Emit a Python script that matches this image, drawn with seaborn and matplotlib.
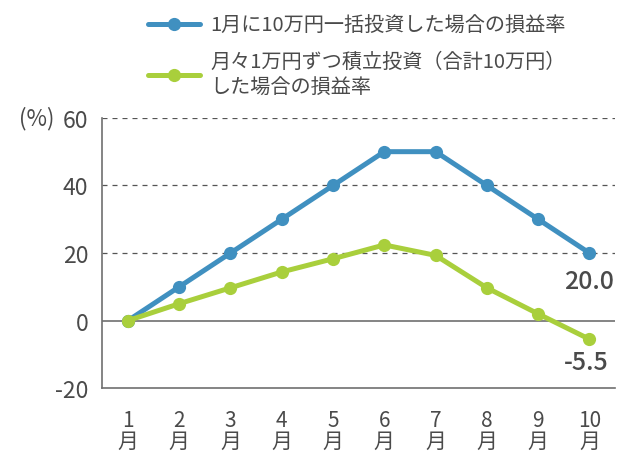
import matplotlib.pyplot as plt
from matplotlib.ticker import FixedLocator
import seaborn as sns

sns.set_style("white")
plt.rcParams["font.family"] = ["Noto Sans CJK JP", "DejaVu Sans"]

# data
months = [1, 2, 3, 4, 5, 6, 7, 8, 9, 10]
month_labels = [f"{m}\n月" for m in months]
lump_sum = [0, 10, 20, 30, 40, 50, 50, 40, 30, 20]
monthly = [0, 5.0, 9.7, 14.4, 18.3, 22.4, 19.3, 9.7, 2.0, -5.5]
series_names = [
    "1月に10万円一括投資した場合の損益率",
    "月々1万円ずつ積立投資（合計10万円）\nした場合の損益率",
]
y_ticks = [-20, 0, 20, 40, 60]

blue = "#4090c0"
green = "#a9cf3c"
text_color = "#4a4a4a"
axis_color = "#707070"

fig = plt.figure(figsize=(6.2, 4.52), dpi=100)
ax = fig.add_axes([0.165, 0.139, 0.827, 0.598])

for values, color, name in [(lump_sum, blue, series_names[0]), (monthly, green, series_names[1])]:
    sns.lineplot(x=months, y=values, ax=ax, color=color, linewidth=3.6,
                 marker="o", markersize=9.5, markeredgewidth=0, label=name)

ax.set_xlim(0.5, 10.5)
ax.set_ylim(-20, 60)
ax.set_yticks(y_ticks)
ax.set_yticklabels([str(v) for v in y_ticks])

# boundary ticks between months, labels centred on the months
ax.xaxis.set_major_locator(FixedLocator([m - 0.5 for m in months] + [10.5]))
ax.set_xticklabels([])
ax.xaxis.set_minor_locator(FixedLocator(months))
ax.set_xticklabels(month_labels, minor=True)
ax.tick_params(axis="x", which="major", length=6, width=1.2, color=axis_color, direction="out")
ax.tick_params(axis="x", which="minor", length=0, pad=15, labelsize=15, labelcolor=text_color)
ax.tick_params(axis="y", length=6, width=1.2, color=axis_color, pad=4,
               labelsize=16.5, labelcolor=text_color, direction="out")
for t in ax.get_xticklabels(minor=True):
    t.set_linespacing(0.95)

for v in [20, 40, 60]:
    ax.axhline(v, color="#555555", linewidth=0.9, linestyle=(0, (4, 4)), zorder=0)
ax.axhline(0, color=axis_color, linewidth=1.2, zorder=0)

sns.despine(ax=ax)
for side in ["left", "bottom"]:
    ax.spines[side].set_color(axis_color)
    ax.spines[side].set_linewidth(1.2)
ax.set_xlabel("")
ax.set_ylabel("")

ax.annotate("(%)", xy=(0, 60), xycoords=("axes fraction", "data"),
            xytext=(-48, 0), textcoords="offset pixels", ha="right", va="center",
            fontsize=16, color=text_color)

ax.annotate(f"{lump_sum[-1]:.1f}", xy=(months[-1], lump_sum[-1]), xytext=(0, -28),
            textcoords="offset pixels", ha="center", va="center",
            fontsize=18, fontweight="medium", color=text_color)
ax.annotate(f"{monthly[-1]:.1f}", xy=(months[-1], monthly[-1]), xytext=(-3, -23),
            textcoords="offset pixels", ha="center", va="center",
            fontsize=18, fontweight="medium", color=text_color)

ax.get_legend().remove()
handles, names = ax.get_legend_handles_labels()
leg = fig.legend(handles, names, loc="upper left", bbox_to_anchor=(138 / 620, 1 - 6 / 452),
                 frameon=False, borderpad=0, handlelength=2.6, handletextpad=0.5,
                 labelspacing=0.72, fontsize=14.5, numpoints=1)
for t in leg.get_texts():
    t.set_color(text_color)
    t.set_linespacing(1.35)

fig.savefig("out.png", dpi=100)
